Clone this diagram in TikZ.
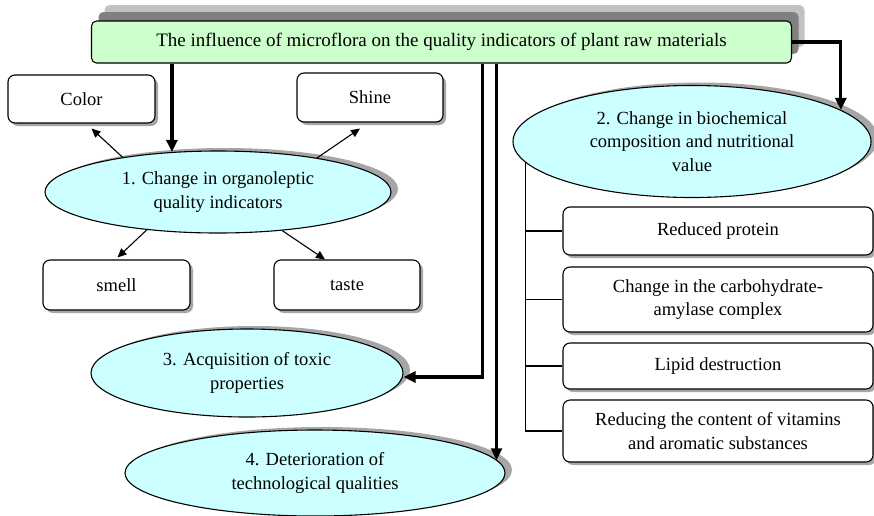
\documentclass[tikz,border=0pt]{standalone}
\usepackage{fontspec}
\setmainfont{Liberation Serif}
\usetikzlibrary{positioning,arrows.meta,shapes.geometric,shadows,backgrounds}
\definecolor{mintgreen}{HTML}{CCFFCC}
\definecolor{paleaqua}{HTML}{CCFFFF}
\definecolor{shadegrey}{HTML}{A6A6A6}
\definecolor{deepshade}{HTML}{808080}
\tikzset{
  txt/.style={font=\fontsize{18.5}{23.5}\selectfont, align=center, text=black},
  head/.style={txt, font=\fontsize{19}{23.5}\selectfont, rectangle, rounded corners=5pt,
               draw=black, fill=mintgreen, line width=1.1pt,
               minimum width=700pt, minimum height=42pt,
               drop shadow={shadow xshift=13pt, shadow yshift=16pt, fill=shadegrey!70, opacity=1},
               drop shadow={shadow xshift=7pt, shadow yshift=9pt, fill=deepshade, opacity=1}},
  box/.style={txt, rectangle, rounded corners=7pt, draw=black, fill=white,
              line width=1.1pt, inner sep=2pt,
              drop shadow={shadow xshift=3pt, shadow yshift=-3pt, fill=shadegrey, opacity=1}},
  oval/.style={txt, ellipse, draw=black, fill=paleaqua, line width=1.1pt, inner sep=0pt,
               drop shadow={shadow xshift=7pt, shadow yshift=3pt, fill=shadegrey, opacity=1}},
  ar/.style={-{Triangle[length=9pt,width=8pt]}, line width=1.1pt},
  arb/.style={-{Triangle[length=12pt,width=11pt]}, line width=3.2pt},
  lnk/.style={line width=1.1pt},
}
\begin{document}
\begin{tikzpicture}[x=1pt,y=-1pt]
  \useasboundingbox (0,0) rectangle (874,515);

  \node[head] (ttl) at (441.5,42) {The influence of microflora on the quality indicators of plant raw materials};

  % organoleptic branch
  \node[oval, minimum width=346pt, minimum height=82pt] (o1) at (218,192) {1. Change in organoleptic\\quality indicators};
  \node[box, minimum width=147pt, minimum height=48pt] (clr) at (81.5,99) {Color};
  \node[box, minimum width=146pt, minimum height=49pt] (shn) at (370,97.5) {Shine};
  \node[box, minimum width=147pt, minimum height=50pt] (sml) at (116.5,285) {smell};
  \node[box, minimum width=146pt, minimum height=50pt] (tst) at (347,285) {taste};

  % biochemical branch
  \node[oval, minimum width=358pt, minimum height=112pt] (o2) at (692,141.5) {2. Change in biochemical\\composition and nutritional\\value};
  \node[box, minimum width=310pt, minimum height=48pt] (rp) at (718,231) {Reduced protein};
  \node[box, minimum width=310pt, minimum height=65pt] (carb) at (718,299.5) {Change in the carbohydrate-\\amylase complex};
  \node[box, minimum width=310pt, minimum height=46pt] (lip) at (718,366) {Lipid destruction};
  \node[box, minimum width=310pt, minimum height=62pt] (vit) at (718,431) {Reducing the content of vitamins\\and aromatic substances};

  \node[oval, minimum width=312pt, minimum height=88pt] (o3) at (247,373) {3. Acquisition of toxic\\properties};
  \node[oval, minimum width=380pt, minimum height=86pt] (o4) at (315,473) {4. Deterioration of\\technological qualities};

  \draw[arb] (ttl.south -| o1.139) -- (o1.139);
  \draw[arb] (ttl.east) -| (o2.12);
  \draw[arb] ([xshift=41pt]ttl.south) |- ([yshift=-4pt]o3.east);
  \draw[arb] ([xshift=55pt]ttl.south) -- ([xshift=55pt]ttl.south |- o4.4);

  \draw[ar] (o1.160) -- ([xshift=10pt,yshift=-5pt]clr.south);
  \draw[ar] (o1.19) -- ([xshift=-10pt,yshift=-6pt]shn.south);
  \draw[ar] (o1.208) -- ([xshift=1pt,yshift=2pt]sml.north);
  \draw[ar] (o1.329) -- ([xshift=-22pt]tst.north);

  \begin{scope}[on background layer]
    \draw[lnk] (vit.west) -- ++(-37pt,0) coordinate (tk) -- (tk |- o2.center);
  \end{scope}
  \draw[lnk] (rp.west) -- (rp.west -| tk);
  \draw[lnk] (carb.west) -- (carb.west -| tk);
  \draw[lnk] (lip.west) -- (lip.west -| tk);
\end{tikzpicture}
\end{document}
